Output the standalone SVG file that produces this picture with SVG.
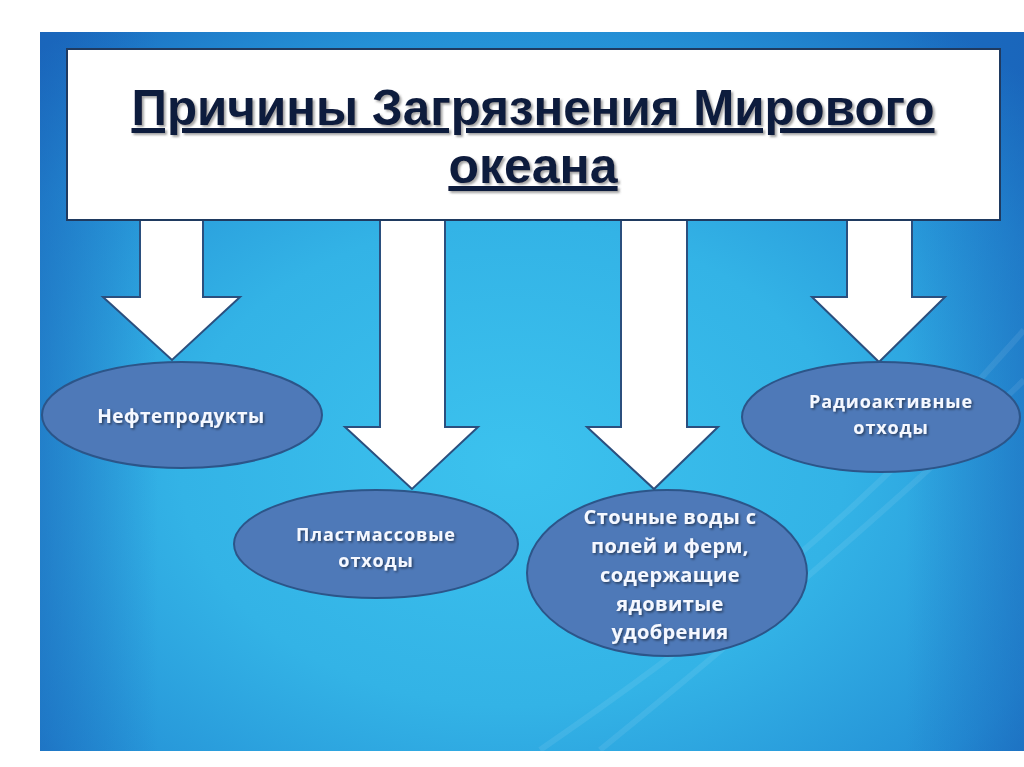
<svg xmlns="http://www.w3.org/2000/svg" width="1024" height="767" viewBox="0 0 1024 767">
  <defs>
    <radialGradient id="bg" cx="0.48" cy="0.6" r="0.75">
      <stop offset="0" stop-color="#3cc2ee"/>
      <stop offset="0.45" stop-color="#33b3e6"/>
      <stop offset="0.8" stop-color="#2490d6"/>
      <stop offset="1" stop-color="#1a6cc0"/>
    </radialGradient>
    <linearGradient id="edge" x1="0" y1="0" x2="1" y2="0">
      <stop offset="0" stop-color="#1a5fb6" stop-opacity="0.5"/>
      <stop offset="0.12" stop-color="#1a5fb6" stop-opacity="0"/>
      <stop offset="0.88" stop-color="#1a5fb6" stop-opacity="0"/>
      <stop offset="1" stop-color="#1a5fb6" stop-opacity="0.45"/>
    </linearGradient>
    <filter id="tsh" x="-10%" y="-30%" width="120%" height="160%">
      <feDropShadow dx="1.5" dy="1.5" stdDeviation="1" flood-color="#000" flood-opacity="0.5"/>
    </filter>
    <filter id="ttl" x="-5%" y="-30%" width="110%" height="160%">
      <feDropShadow dx="2" dy="2" stdDeviation="1.2" flood-color="#555" flood-opacity="0.55"/>
    </filter>
  </defs>
  <style>
    .arrow { fill: #ffffff; stroke: #2b4f7e; stroke-width: 2; stroke-linejoin: miter; }
    .node { fill: #4e79b8; stroke: #2c5589; stroke-width: 2; }
    .lbl { font-family: "Open Sans", "Liberation Sans", sans-serif; font-weight: bold; fill: #f5f8ff; text-anchor: middle; filter: url(#tsh); font-size: 19px; letter-spacing: 0.5px; }
    .two { font-size: 18px; letter-spacing: 0.9px; }
    .big { font-size: 20px; letter-spacing: 0.4px; }
    .title { font-family: "Liberation Sans", Arial, sans-serif; font-weight: bold; fill: #0e1a3c; text-anchor: middle; text-decoration: underline; filter: url(#ttl); font-size: 50px; }
  </style>

  <rect x="0" y="0" width="1024" height="767" fill="#ffffff"/>
  <g id="background">
    <rect x="40" y="32" width="984" height="719" fill="url(#bg)"/>
    <rect x="40" y="32" width="984" height="719" fill="url(#edge)"/>
    <g fill="none" stroke="#ffffff" stroke-opacity="0.08" stroke-width="6">
      <path d="M 540 750 C 700 640, 860 520, 1024 330"/>
      <path d="M 600 750 C 760 620, 900 500, 1024 380"/>
    </g>
  </g>

  <g id="connectors">
    <polygon class="arrow" points="140,220 203,220 203,297 240,297 172,360 103,297 140,297"/>
    <polygon class="arrow" points="380,220 445,220 445,427 478,427 412,489 345,427 380,427"/>
    <polygon class="arrow" points="621,220 687,220 687,427 718,427 654,489 587,427 621,427"/>
    <polygon class="arrow" points="847,220 912,220 912,297 945,297 879,362 812,297 847,297"/>
  </g>

  <g id="title">
    <rect x="67" y="49" width="933" height="171" fill="#ffffff" stroke="#1f3a60" stroke-width="2"/>
    <text class="title" x="533" y="125" textLength="803" lengthAdjust="spacingAndGlyphs">Причины Загрязнения Мирового</text>
    <text class="title" x="533" y="183">океана</text>
  </g>

  <g id="node-oil">
    <ellipse class="node" cx="182" cy="415" rx="140" ry="53"/>
    <text class="lbl" x="181" y="423">Нефтепродукты</text>
  </g>

  <g id="node-plastic">
    <ellipse class="node" cx="376" cy="544" rx="142" ry="54"/>
    <text class="lbl two" x="376" y="541">Пластмассовые</text>
    <text class="lbl two" x="376" y="567">отходы</text>
  </g>

  <g id="node-sewage">
    <ellipse class="node" cx="667" cy="573" rx="140" ry="83"/>
    <text class="lbl big" x="670" y="524">Сточные воды с</text>
    <text class="lbl big" x="670" y="553">полей и ферм,</text>
    <text class="lbl big" x="670" y="582">содержащие</text>
    <text class="lbl big" x="670" y="611">ядовитые</text>
    <text class="lbl big" x="670" y="639">удобрения</text>
  </g>

  <g id="node-radio">
    <ellipse class="node" cx="881" cy="417" rx="139" ry="55"/>
    <text class="lbl two" x="891" y="408">Радиоактивные</text>
    <text class="lbl two" x="891" y="434">отходы</text>
  </g>
</svg>
